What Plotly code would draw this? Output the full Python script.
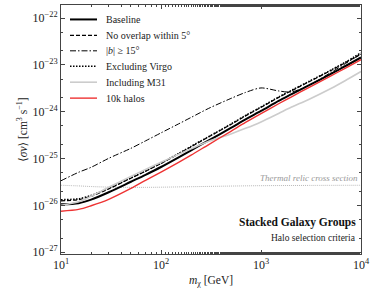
import plotly.graph_objects as go
import math

mass = [10, 15, 20, 30, 50, 70, 100, 150, 200, 300, 500, 700, 1000, 1500, 2000, 3000, 5000, 7000, 10000]

baseline = [1.05e-26, 1.11e-26, 1.32e-26, 1.90e-26, 3.19e-26, 4.49e-26, 6.59e-26, 1.06e-25, 1.50e-25,
            2.44e-25, 4.51e-25, 6.85e-25, 1.04e-24, 1.70e-24, 2.34e-24, 3.64e-24, 6.40e-24, 9.48e-24, 1.44e-23]
no_overlap = [1.25e-26, 1.32e-26, 1.56e-26, 2.25e-26, 3.80e-26, 5.35e-26, 7.85e-26, 1.26e-25, 1.78e-25,
              2.90e-25, 5.35e-25, 8.15e-25, 1.24e-24, 2.02e-24, 2.78e-24, 4.32e-24, 7.60e-24, 1.12e-23, 1.70e-23]
high_lat = [3.35e-26, 5.08e-26, 6.49e-26, 1.01e-25, 1.65e-25, 2.38e-25, 3.53e-25, 5.50e-25, 7.55e-25,
            1.18e-24, 1.92e-24, 2.58e-24, 3.22e-24, 2.78e-24, 2.64e-24, 3.64e-24, 6.89e-24, 1.07e-23, 1.71e-23]
excl_virgo = [1.32e-26, 1.38e-26, 1.63e-26, 2.30e-26, 3.85e-26, 5.40e-26, 7.95e-26, 1.28e-25, 1.82e-25,
              2.95e-25, 5.45e-25, 8.30e-25, 1.26e-24, 2.06e-24, 2.84e-24, 4.42e-24, 7.75e-24, 1.15e-23, 1.82e-23]
incl_m31 = [1.00e-26, 1.19e-26, 1.56e-26, 2.43e-26, 4.15e-26, 5.85e-26, 8.30e-26, 1.23e-25, 1.61e-25,
            2.33e-25, 3.36e-25, 4.41e-25, 6.06e-25, 9.20e-25, 1.24e-24, 1.83e-24, 3.14e-24, 4.65e-24, 7.23e-24]
ten_k = [7.48e-27, 8.18e-27, 9.80e-27, 1.34e-26, 2.29e-26, 3.41e-26, 5.15e-26, 8.30e-26, 1.18e-25,
         1.99e-25, 3.82e-25, 5.89e-25, 9.10e-25, 1.48e-24, 2.06e-24, 3.27e-24, 5.83e-24, 8.55e-24, 1.30e-23]

thermal_mass = [10, 15, 20, 30, 50, 70, 100, 200, 500, 1000, 3000, 10000]
thermal = [2.68e-26, 2.60e-26, 2.52e-26, 2.45e-26, 2.42e-26, 2.42e-26, 2.44e-26, 2.50e-26, 2.58e-26,
           2.63e-26, 2.66e-26, 2.68e-26]

x_tickvals = [10, 100, 1000, 10000]
x_ticktext = ["10<sup>1</sup>", "10<sup>2</sup>", "10<sup>3</sup>", "10<sup>4</sup>"]
y_tickvals = [1e-27, 1e-26, 1e-25, 1e-24, 1e-23, 1e-22]
y_ticktext = ["10<sup>−27</sup>", "10<sup>−26</sup>", "10<sup>−25</sup>", "10<sup>−24</sup>",
              "10<sup>−23</sup>", "10<sup>−22</sup>"]

SERIF = "Liberation Serif, DejaVu Serif, serif"

fig = go.Figure()

fig.add_trace(go.Scatter(x=thermal_mass, y=thermal, mode="lines", showlegend=False,
                         line=dict(color="#b0b0b0", width=0.9, dash="1px,1px", shape="spline")))

series = [
    ("Baseline", baseline, dict(color="black", width=2.0, dash="solid")),
    ("No overlap within 5°", no_overlap, dict(color="black", width=1.2, dash="4px,2px")),
    ("|<i>b</i>| ≥ 15°", high_lat, dict(color="black", width=1.0, dash="6px,2px,1.5px,2px")),
    ("Excluding Virgo", excl_virgo, dict(color="black", width=1.5, dash="1.5px,1.5px")),
    ("Including M31", incl_m31, dict(color="#cccccc", width=1.6, dash="solid")),
    ("10k halos", ten_k, dict(color="#ee3333", width=1.4, dash="solid")),
]
for name, vals, ln in series:
    ln2 = dict(ln, shape="spline", smoothing=0.8)
    fig.add_trace(go.Scatter(x=mass, y=vals, mode="lines", name=name, line=ln2, showlegend=False))

axis_common = dict(
    type="log", showline=True, linecolor="#444", linewidth=1, mirror="ticks",
    ticks="inside", ticklen=4, tickcolor="#444", showgrid=False, zeroline=False,
    minor=dict(ticks="inside", ticklen=2, tickcolor="#444", showgrid=False),
    tickfont=dict(family=SERIF, size=12, color="#222"),
)

fig.update_xaxes(range=[1, 4], tickvals=x_tickvals, ticktext=x_ticktext, **axis_common,
                 title=dict(text="<i>m</i><sub>χ</sub> [GeV]", font=dict(family=SERIF, size=11.5, color="#222"),
                            standoff=4))
fig.update_yaxes(range=[-27.04, -21.72], tickvals=y_tickvals, ticktext=y_ticktext, **axis_common,
                 title=dict(text="⟨<i>σv</i>⟩ [cm<sup>3</sup> s<sup>−1</sup>]",
                            font=dict(family=SERIF, size=11.5, color="#222"), standoff=2))

# manual legend (compact row spacing as in the reference)
leg_y = [0.942, 0.878, 0.816, 0.754, 0.690, 0.626]
for (name, vals, ln), ly in zip(series, leg_y):
    fig.add_shape(type="line", xref="paper", yref="paper", x0=0.030, x1=0.120, y0=ly, y1=ly,
                  line=dict(color=ln["color"], width=ln["width"], dash=ln["dash"]))
    fig.add_annotation(x=0.143, y=ly, xref="paper", yref="paper", text=name, showarrow=False,
                       xanchor="left", yanchor="middle",
                       font=dict(family=SERIF, size=10, color="#222"))

fig.add_annotation(x=math.log10(9700), y=math.log10(thermal[-1]), xref="x", yref="y",
                   text="<i>Thermal relic cross section</i>", showarrow=False,
                   xanchor="right", yanchor="bottom", yshift=0,
                   font=dict(family=SERIF, size=9, color="#999"))
fig.add_annotation(x=0.99, y=0.128, xref="paper", yref="paper", text="<b>Stacked Galaxy Groups</b>",
                   showarrow=False, xanchor="right", yanchor="middle",
                   font=dict(family=SERIF, size=11.5, color="#111"))
fig.add_annotation(x=0.99, y=0.064, xref="paper", yref="paper", text="Halo selection criteria",
                   showarrow=False, xanchor="right", yanchor="middle",
                   font=dict(family=SERIF, size=9.5, color="#222"))

fig.update_layout(
    width=374, height=298,
    margin=dict(l=61, r=13, t=4.5, b=44),
    paper_bgcolor="white", plot_bgcolor="white",
    showlegend=False,
)

fig.write_html("out.html", config={"displayModeBar": False},
               post_script="document.body.style.margin='0';document.body.style.padding='0';")
